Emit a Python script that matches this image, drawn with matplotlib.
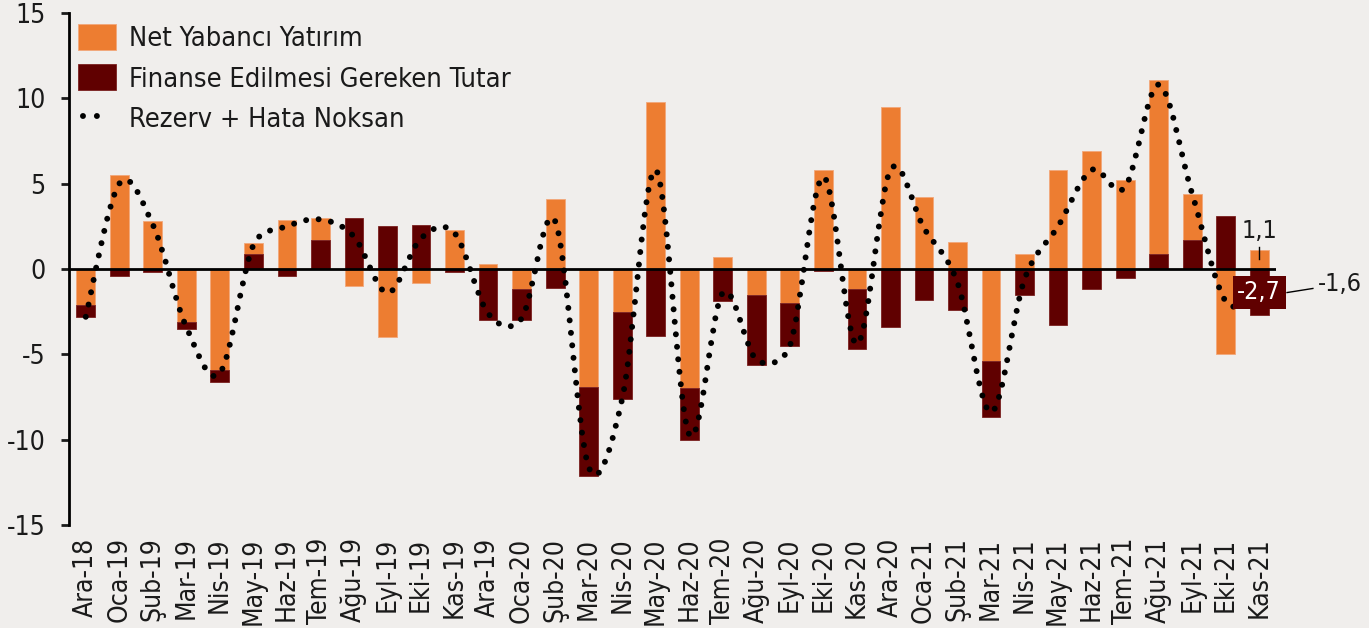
import numpy as np
import matplotlib.pyplot as plt
from matplotlib.path import Path
from matplotlib.patches import PathPatch

# months
months = ["Ara-18", "Oca-19", "Şub-19", "Mar-19", "Nis-19", "May-19", "Haz-19",
          "Tem-19", "Ağu-19", "Eyl-19", "Eki-19", "Kas-19", "Ara-19", "Oca-20",
          "Şub-20", "Mar-20", "Nis-20", "May-20", "Haz-20", "Tem-20", "Ağu-20",
          "Eyl-20", "Eki-20", "Kas-20", "Ara-20", "Oca-21", "Şub-21", "Mar-21",
          "Nis-21", "May-21", "Haz-21", "Tem-21", "Ağu-21", "Eyl-21", "Eki-21",
          "Kas-21"]

# net foreign investment (orange)
net_yabanci = [-2.1, 5.5, 2.8, -3.1, -5.9, 0.6, 2.9, 1.3, -1.0, -4.0, -0.8, 2.3,
               0.3, -1.2, 4.1, -6.9, -2.5, 9.8, -7.0, 0.7, -1.5, -2.0, 5.8, -1.2,
               9.5, 4.2, 1.6, -5.4, 0.9, 5.8, 6.9, 5.2, 10.2, 2.7, -5.0, 1.1]

# financing need (dark red)
finanse = [-0.7, -0.4, -0.2, -0.4, -0.7, 0.9, -0.4, 1.7, 3.0, 2.5, 2.6, -0.2,
           -3.0, -1.8, -1.1, -5.2, -5.1, -3.9, -3.0, -1.9, -4.1, -2.5, -0.1, -3.5,
           -3.4, -1.8, -2.4, -3.3, -1.5, -3.3, -1.2, -0.5, 0.9, 1.7, 3.1, -2.7]

# reserves + errors and omissions (dotted line)
rezerv = [-2.8, 5.0, 2.6, -3.4, -6.1, 1.4, 2.5, 2.9, 1.9, -1.4, 1.8, 2.1,
          -2.6, -2.9, 2.8, -11.6, -7.6, 5.8, -9.7, -1.4, -5.3, -4.5, 5.4, -4.4,
          5.8, 2.4, -0.8, -8.4, -0.6, 2.5, 5.8, 4.8, 10.8, 4.4, -1.9, -1.6]

orange = "#ED7D31"
dark = "#600000"
bg = "#f0eeec"

plt.rcParams['font.family'] = 'DejaVu Sans'
plt.rcParams['font.stretch'] = 'condensed'
fs = 19
fs_leg = 19.5
fs_lab = 18

fig = plt.figure(figsize=(13.69, 6.28), dpi=100, facecolor=bg)
ax = fig.add_axes((69 / 1369, 1 - 525 / 628, (1276 - 69) / 1369, (525 - 13) / 628), facecolor=bg)

x = np.arange(len(months))
o = np.array(net_yabanci)
d = np.array(finanse)

# positives: dark at bottom, orange on top; negatives: orange next to zero, dark below
d_bottom = np.where(d >= 0, 0, np.where(o < 0, o, 0))
o_bottom = np.where(o >= 0, np.where(d > 0, d, 0), 0)

w = 0.56
b1 = ax.bar(x, o, w, bottom=o_bottom, color=orange, edgecolor="#f2a77a", linewidth=0.6,
            label="Net Yabancı Yatırım", zorder=2)
b2 = ax.bar(x, d, w, bottom=d_bottom, color=dark, edgecolor="#7a2020", linewidth=0.6,
            label="Finanse Edilmesi Gereken Tutar", zorder=2)

ax.axhline(0, color="black", lw=2, zorder=3)

# smoothed line like excel: bezier with 1/6 arms, clamped to half the segment
sy = 17.06 / 33.5  # y unit vs x unit on screen
pts = np.column_stack([x, rezerv]).astype(float)
ext = np.vstack([pts[0], pts, pts[-1]])


def dist(a, b):
    return np.hypot(a[0] - b[0], (a[1] - b[1]) * sy)


verts = [pts[0]]
codes = [Path.MOVETO]
for i in range(len(pts) - 1):
    p0, p1, p2, p3 = ext[i], ext[i + 1], ext[i + 2], ext[i + 3]
    d12 = dist(p1, p2)
    d02 = dist(p0, p2)
    d13 = dist(p1, p3)
    f1 = min(1 / 6, d12 / (2 * d02)) if d02 > 0 else 0
    f2 = min(1 / 6, d12 / (2 * d13)) if d13 > 0 else 0
    verts += [p1 + (p2 - p0) * f1, p2 - (p3 - p1) * f2, p2]
    codes += [Path.CURVE4] * 3
patch = PathPatch(Path(verts, codes), fill=False, edgecolor="black", lw=4.3,
                  linestyle=(0, (0.001, 2.1)), capstyle="round", zorder=4)
ax.add_patch(patch)
# proxy for legend: two dots only, like the original key
ln, = ax.plot([], [], color="black", lw=4.3,
              linestyle=(11.5, (0.001, 2.33, 0.001, 10)),
              dash_capstyle="round", label="Rezerv + Hata Noksan")

ax.set_xlim(-0.5, len(months) - 0.5)
ax.set_ylim(-15, 15)
ax.set_yticks([-15, -10, -5, 0, 5, 10, 15])
ax.set_yticklabels(["-15", "-10", "-5", "0", "5", "10", "15"])
ax.set_xticks(x)
ax.set_xticklabels(months, rotation=90)
ax.tick_params(axis="y", labelsize=fs, length=6, width=2, pad=11,
               direction="out", colors="#1a1a1a")
ax.tick_params(axis="x", labelsize=fs, length=0, pad=9, colors="#1a1a1a")
for s in ["top", "right", "bottom"]:
    ax.spines[s].set_visible(False)
ax.spines["left"].set_linewidth(2)

# value labels on the last month
last = len(months) - 1
ax.text(last, 2.2, f"{o[-1]:.1f}".replace(".", ","), ha="center", va="center",
        fontsize=fs_lab, color="#1a1a1a", zorder=6)
ax.plot([last, last], [1.26, 0.57], color="black", lw=1, zorder=6)
ax.text(last, -1.35, f"{d[-1]:.1f}".replace(".", ","), ha="center", va="center",
        fontsize=fs_lab, color="white", zorder=7,
        bbox=dict(boxstyle="square,pad=0.18", fc=dark, ec="none"))
ax.plot([last + 0.83, last + 1.6], [-1.38, -1.14], color="black", lw=1,
        zorder=6, clip_on=False)
ax.text(last + 2.42, -0.9, f"{rezerv[-1]:.1f}".replace(".", ","), ha="center",
        va="center", fontsize=fs_lab, color="#1a1a1a", clip_on=False)

leg = ax.legend(handles=[b1, b2, ln], loc="upper left",
                bbox_to_anchor=(78 / 1369, 1 - 24 / 628),
                bbox_transform=fig.transFigure, frameon=False, fontsize=fs_leg,
                handlelength=1.4, handleheight=1.1, handletextpad=0.5,
                labelspacing=0.45, borderaxespad=0, borderpad=0)
for t in leg.get_texts():
    t.set_color("#1a1a1a")

fig.savefig("out.png", dpi=100, facecolor=bg)
